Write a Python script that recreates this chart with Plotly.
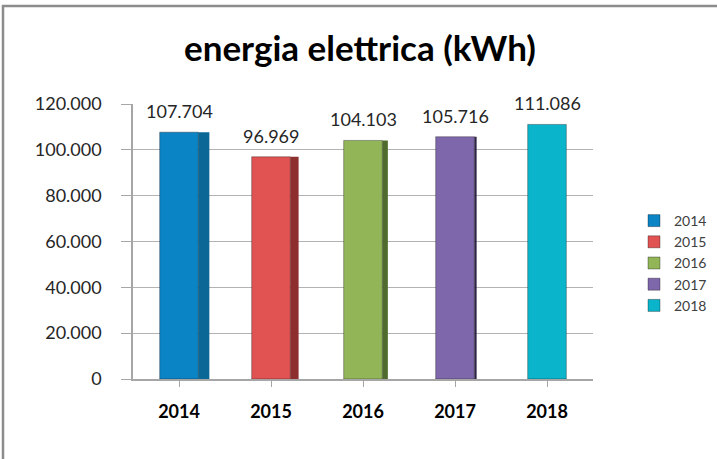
import plotly.graph_objects as go

years = ["2014", "2015", "2016", "2017", "2018"]
values = [107704, 96969, 104103, 105716, 111086]
labels = ["107.704", "96.969", "104.103", "105.716", "111.086"]
front_colors = ["#0B84C6", "#E15252", "#92B558", "#7E67AA", "#0AB4CB"]
side_colors = ["#0A6796", "#8E2F2F", "#4F6B2E", "#2E2546", "#078FA2"]
side_widths = [0.12, 0.09, 0.06, 0.025, 0.0]
y_ticks = [0, 20000, 40000, 60000, 80000, 100000, 120000]

FONT = "Lato"
fig = go.Figure()

# side faces (pseudo 3D)
for i, y in enumerate(years):
    if side_widths[i] > 0:
        fig.add_trace(go.Bar(
            x=[y], y=[values[i]], width=side_widths[i], offset=0.21,
            marker=dict(color=side_colors[i], line=dict(width=0)),
            showlegend=False, hoverinfo="skip"))

for i, y in enumerate(years):
    fig.add_trace(go.Bar(
        x=[y], y=[values[i]], name=y, width=0.42,
        marker=dict(color=front_colors[i], line=dict(color="rgba(0,0,0,0.55)", width=0.6)),
        hoverinfo="x+y"))

# value labels above the bars (category index positions)
for i, y in enumerate(years):
    fig.add_annotation(x=i, y=values[i], xref="x", yref="y", text=labels[i],
                       showarrow=False, yanchor="bottom", yshift=8,
                       font=dict(family=FONT, size=18, color="#262626"))

W, H = 717, 459
L, R, T, B = 133, 124, 104, 80
pw, ph = W - L - R, H - T - B

def px_x(p):
    return (p - L) / pw

def px_y(p):
    return (H - B - p) / ph

fig.add_shape(type="rect", xref="paper", yref="paper",
              x0=px_x(3), x1=px_x(740), y0=px_y(480), y1=px_y(6),
              line=dict(color="#8C8C8C", width=2.5), layer="below")

fig.update_layout(
    width=W, height=H,
    margin=dict(l=L, r=R, t=T, b=B, pad=0),
    paper_bgcolor="white", plot_bgcolor="white",
    barmode="overlay",
    separators=",.",
    title=dict(text="<b>energia elettrica (kWh)</b>", x=0.502, xanchor="center",
               y=1 - 49 / H, yanchor="middle",
               font=dict(family=FONT, size=35, color="black")),
    legend=dict(xref="container", yref="container", x=634 / W, xanchor="left",
                y=(H - 263) / H, yanchor="middle",
                font=dict(family=FONT, size=14, color="#404040"),
                tracegroupgap=0, itemwidth=30, bgcolor="rgba(0,0,0,0)"),
    xaxis=dict(type="category", categoryorder="array", categoryarray=years,
               range=[-0.5, 4.5], showgrid=False, automargin=False,
               showline=True, linecolor="#A6A6A6", linewidth=1.5,
               ticks="outside", ticklen=6, tickcolor="#A6A6A6",
               tickfont=dict(family=FONT, size=18, color="black", weight="bold"),
               ticklabelstandoff=10),
    yaxis=dict(range=[0, 120000], tickvals=y_ticks, tickformat=",d",
               showgrid=True, gridcolor="#B3B3B3", gridwidth=1.2, automargin=False,
               showline=True, linecolor="#A6A6A6", linewidth=1.5,
               ticks="outside", ticklen=10, tickcolor="#A6A6A6",
               tickfont=dict(family=FONT, size=18, color="#262626"),
               ticklabelstandoff=16, zeroline=False),
)

fig.write_html("out.html", config={"displayModeBar": False},
               post_script="document.body.style.margin='0';")
